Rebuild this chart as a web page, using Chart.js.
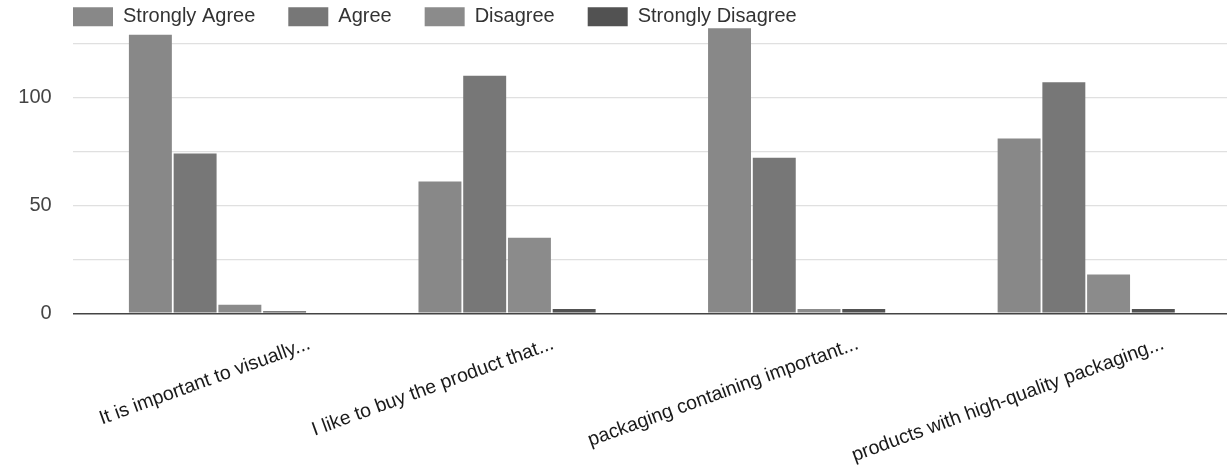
<!DOCTYPE html>
<html>
<head>
<meta charset="utf-8">
<script src="https://cdn.jsdelivr.net/npm/chart.js@4.4.1/dist/chart.umd.min.js"></script>
<style>
  html, body { margin: 0; padding: 0; background: #fff; overflow: hidden; }
  #wrap { width: 1231px; height: 469px; }
</style>
</head>
<body>
<div id="wrap"><canvas id="chart" width="1231" height="469"></canvas></div>
<script>
// Survey answers per statement
const categories = [
  'It is important to visually...',
  'I like to buy the product that...',
  'packaging containing important...',
  'products with high-quality packaging...'
];
const seriesNames = ['Strongly Agree', 'Agree', 'Disagree', 'Strongly Disagree'];
const stronglyAgree    = [129, 61, 132, 81];
const agree            = [74, 110, 72, 107];
const disagree         = [4, 35, 2, 18];
const stronglyDisagree = [1, 2, 2, 2];
const yTickLabels = [0, 50, 100];

// Horizontal nudge of each slanted category label (px)
const labelShift = [92, 46, 61, 77];
const seriesColors = ['#888888', '#777777', '#8b8b8b', '#525252'];

const FONT = "'Liberation Sans', Arial, sans-serif";

// Nudges the slanted category labels along x
const slantedLabels = {
  id: 'slantedLabels',
  beforeDraw(chart) {
    const items = chart.scales.x.getLabelItems();
    items.forEach((it, i) => {
      const tr = (it.options && it.options.translation) || it.translation;
      if (tr && !it._nudged) {
        tr[0] += labelShift[i] || 0;
        it._nudged = true;
      }
    });
  }
};

// Places the legend row: indented from the left, hugging the top edge
const legendPlacement = {
  id: 'legendPlacement',
  afterLayout(chart) {
    const lg = chart.legend;
    if (!lg) return;
    lg.left = 40;
    lg.right = lg.left + lg.width;
    lg.top = -26.2;
    lg.bottom = 40;
    lg.height = lg.bottom - lg.top;
  }
};

const seriesValues = [stronglyAgree, agree, disagree, stronglyDisagree];

new Chart(document.getElementById('chart'), {
  type: 'bar',
  data: {
    labels: categories,
    datasets: seriesNames.map((name, i) => ({
      label: name,
      data: seriesValues[i],
      backgroundColor: seriesColors[i],
      borderWidth: 0,
      categoryPercentage: 0.618,
      barPercentage: 0.96
    }))
  },
  options: {
    responsive: false,
    animation: false,
    events: [],
    layout: { padding: 0 },
    plugins: {
      tooltip: { enabled: false },
      legend: {
        position: 'top',
        align: 'start',
        maxHeight: 24,
        labels: {
          boxWidth: 40,
          boxHeight: 19,
          padding: 33,
          color: '#333',
          font: { family: FONT, size: 20 }
        }
      }
    },
    scales: {
      x: {
        grid: { display: false, drawTicks: false },
        border: { display: false },
        ticks: {
          autoSkip: false,
          minRotation: 20,
          maxRotation: 20,
          padding: 19,
          color: '#1a1a1a',
          font: { family: FONT, size: 19.5 }
        },
        afterFit(s) {
          s.height = 155.7;
          s.paddingLeft = 0;
          s.paddingRight = 0;
        }
      },
      y: {
        min: 0,
        max: 134,
        border: { display: false },
        grid: {
          drawTicks: false,
          color: (c) => c.tick && c.tick.value === 0 ? '#444' : '#e0e0e0',
          lineWidth: (c) => c.tick && c.tick.value === 0 ? 1.6 : 1.2
        },
        ticks: {
          stepSize: 25,
          includeBounds: false,
          padding: 21,
          color: '#444',
          font: { family: FONT, size: 20 },
          callback: (v) => yTickLabels.includes(v) ? String(v) : ''
        },
        afterFit(s) {
          s.width = 72.7;
          s.paddingTop = 0;
          s.paddingBottom = 0;
        }
      }
    }
  },
  plugins: [slantedLabels, legendPlacement]
});
</script>
</body>
</html>
